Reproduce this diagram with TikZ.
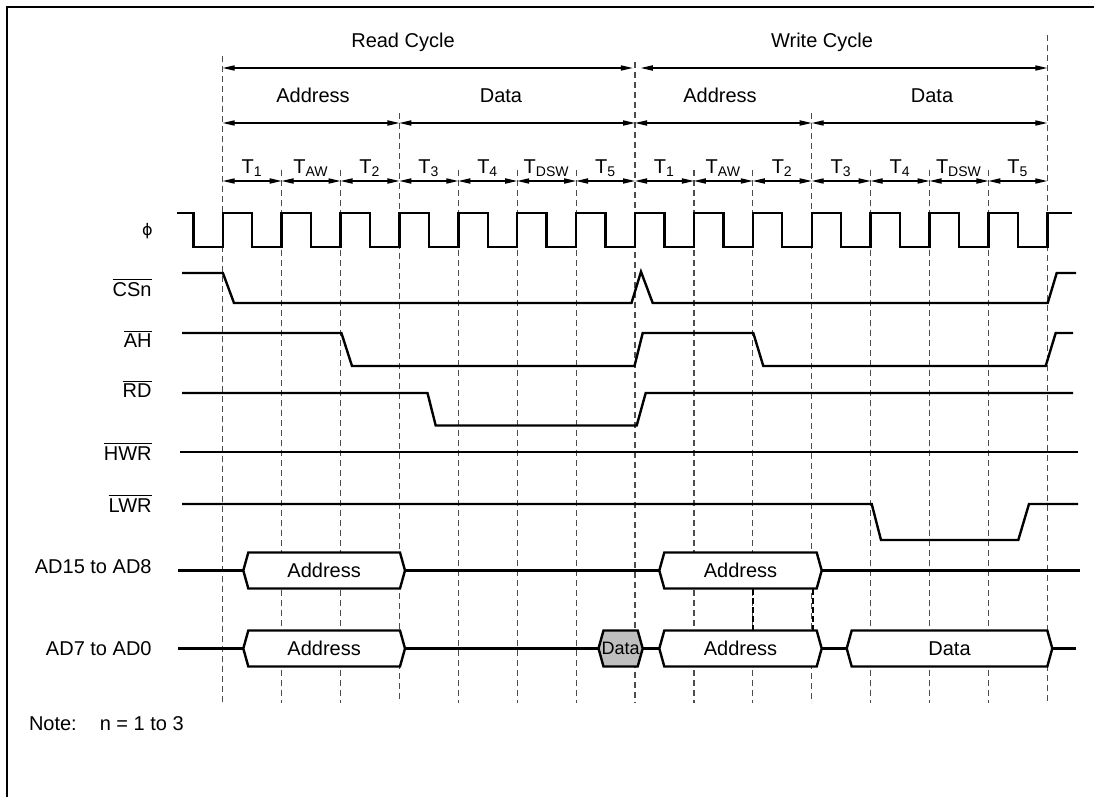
\documentclass[tikz,border=0pt]{standalone}
\usepackage{fontspec}
\setmainfont{Liberation Sans}
\newfontfamily\phifont{DejaVu Sans}
\usetikzlibrary{arrows.meta}
\tikzset{
  tline/.style={dash pattern=on 3pt off 2pt, line width=0.6pt, black!70},
  heavydash/.style={dash pattern=on 3pt off 1.5pt, line width=1pt, black},
  sig/.style={line width=1.2pt},
  span/.style={{Triangle[length=6pt,width=2.6pt]}-{Triangle[length=6pt,width=2.6pt]}, line width=0.6pt},
  busbox/.style={sig, fill=white},
  lbl/.style={anchor=base east, inner sep=0pt},
  hdr/.style={anchor=base, inner sep=0pt},
}
% bus segment: [fill] left x, right x, centre y, name, text
\newcommand{\busseg}[6][]{%
  \draw[busbox,#1] (#2,#4) -- (#2+5,#4-18) -- (#3-5,#4-18) -- (#3,#4) -- (#3-5,#4+18) -- (#2+5,#4+18) -- cycle;
  \node (#5) at ({(#2+#3)/2},#4) {#6};}

\begin{document}
\begin{tikzpicture}[x=0.5pt, y=-0.5pt]
  \useasboundingbox (0,0) rectangle (1094,797);
  % frame (cut at right and bottom)
  \draw[line width=1pt] (7,820) -- (7,7.5) -- (1120,7.5);
  % state boundaries
  \foreach \i/\ya in {0/56,1/170,2/170,3/113,4/170,5/170,6/170,7/62,8/170,9/170,10/113,11/170,12/170,13/170,14/35} {
    \draw[tline] ({222.7+58.9*\i},\ya) -- ({222.7+58.9*\i},703);
    \coordinate (c\i) at ({222.7+58.9*\i},123);
    \coordinate (a\i) at ({222.7+58.9*\i},181);
  }
  % cycle arrows
  \coordinate (k0) at (222.7,68);
  \coordinate (k7) at (635.0,68);
  \coordinate (k14) at (1047.3,68);
  \node[hdr] (rcyc) at (403,48) {Read Cycle};
  \node[hdr] (wcyc) at (822,48) {Write Cycle};
  \draw[span, shorten >=1.1pt] (k0) -- (k7);
  \draw[span, shorten <=2.9pt] (k7) -- (k14);
  % address / data phases
  \node[hdr] (radr) at (313,103) {Address};
  \node[hdr] (rdat) at (501,103) {Data};
  \node[hdr] (wadr) at (720,103) {Address};
  \node[hdr] (wdat) at (932,103) {Data};
  \draw[span] (c0) -- (c3);
  \draw[span] (c3) -- (c7);
  \draw[span] (c7) -- (c10);
  \draw[span] (c10) -- (c14);
  % T states
  \foreach \i/\tl in {0/1,1/AW,2/2,3/3,4/4,5/DSW,6/5,7/1,8/AW,9/2,10/3,11/4,12/DSW,13/5} {
    \pgfmathtruncatemacro{\j}{\i+1}
    \node[hdr] (t\i) at ({222.7+58.9*(\i+0.5)},174) {T\textsubscript{\tl}};
    \draw[span] (a\i) -- (a\j);
  }
  % signal names
  \node[inner sep=0pt] (lphi) at (147.5,231) {\phifont\fontsize{8}{9}\selectfont ϕ};
  \node[lbl] (lcs) at (152,296.5) {$\overline{\mbox{CSn}}$};
  \node[lbl] (lah) at (152,347.8) {$\overline{\mbox{AH}}$};
  \node[lbl] (lrd) at (152,397.6) {$\overline{\mbox{RD}}$};
  \node[lbl] (lhwr) at (152,460) {$\overline{\mbox{HWR}}$};
  \node[lbl] (llwr) at (152,512) {$\overline{\mbox{LWR}}$};
  \node[lbl] (lad15) at (152,573) {AD15 to AD8};
  \node[lbl] (lad7) at (152,655.5) {AD7 to AD0};
  % clock
  \draw[sig] (176.8,213) -- (193.3,213) -- (193.3,247)
    \foreach \i in {0,...,13} { -- ({222.7+58.9*\i},247) -- ++(0,-34) -- ++(29.45,0) -- ++(0,34) }
    -- (1047.3,247) -- (1047.3,213) -- (1072,213);
  % strobes
  \draw[sig] (182,273) -- (222.9,273) -- (234,303) -- (631.5,303) -- (641,271.7) -- (652.7,303) -- (1047.7,303) -- (1056.7,273) -- (1076,273);
  \draw[sig] (182,333) -- (341.4,333) -- (352,366) -- (634.5,366) -- (642.7,333) -- (753.3,333) -- (763.3,366) -- (1045.7,366) -- (1055.7,333) -- (1073,333);
  \draw[sig] (182,393) -- (427.5,393) -- (435.7,425.5) -- (636.7,425.5) -- (645.7,393) -- (1073,393);
  \draw[sig] (180,452) -- (1078,452);
  \draw[sig] (182,504) -- (871.7,504) -- (881,540) -- (1018.3,540) -- (1029,504) -- (1078,504);
  % address / data bus
  \draw[sig] (178,570.5) -- (1080,570.5);
  \draw[sig] (178,648.5) -- (1076,648.5);
  \busseg{243.3}{405}{570.5}{ha1}{Address}
  \busseg{659.3}{821.7}{570.5}{ha2}{Address}
  \busseg{243.3}{405}{648.5}{la1}{Address}
  \busseg[fill=black!25]{598.5}{642.7}{648.5}{ld1}{\small Data}
  \busseg{659.3}{821.7}{648.5}{la2}{Address}
  \busseg{846.7}{1052.3}{648.5}{ld2}{Data}
  \draw[heavydash] (753,589) -- (753,630);
  \draw[heavydash] (812.5,589) -- (812.5,630);
  % note
  \node[anchor=base west, inner sep=0pt] (note) at (28.6,730) {Note:\hspace{11.5pt}n = 1 to 3};
\end{tikzpicture}
\end{document}
